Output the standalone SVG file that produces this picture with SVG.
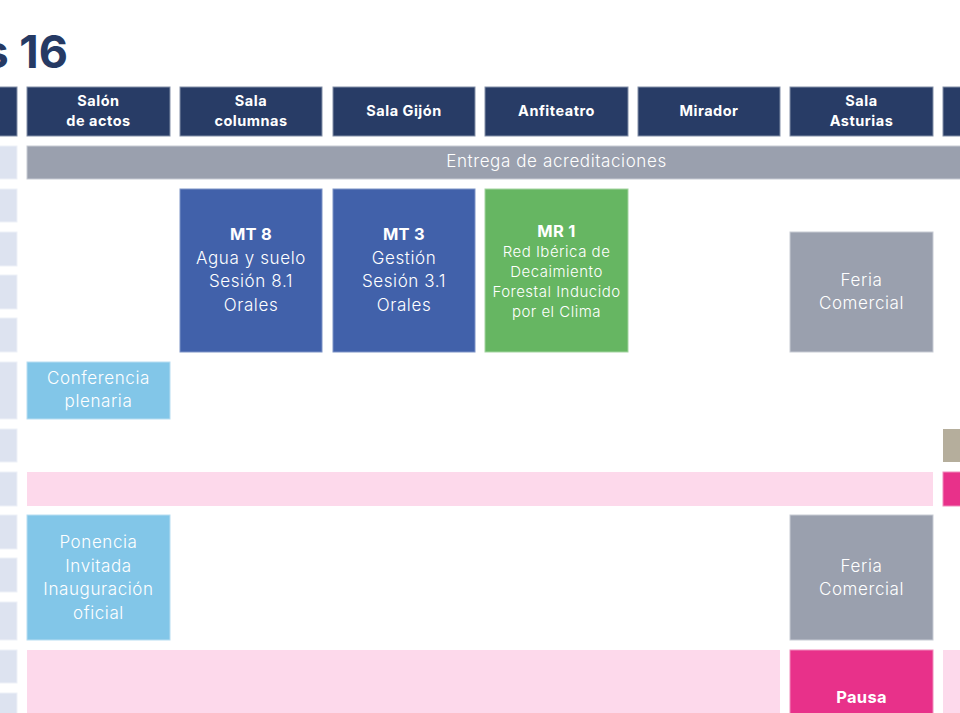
<svg xmlns="http://www.w3.org/2000/svg" width="960" height="713" viewBox="0 0 960 713">
<style>
  .hdr { fill: #283c66; stroke: #8390a8; stroke-width: 1; }
  .side { fill: #dde3f0; stroke: #eef1f8; stroke-width: 1; }
  .grey { fill: #9aa0ae; stroke: #c7cbd4; stroke-width: 1; }
  .blue { fill: #4161aa; stroke: #7d93c6; stroke-width: 1; }
  .green { fill: #66b662; stroke: #a3d4a0; stroke-width: 1; }
  .sky { fill: #82c6e8; stroke: #b8def2; stroke-width: 1; }
  .pink { fill: #fdd9eb; }
  .mag { fill: #e8318a; stroke: #f08cbc; stroke-width: 1; }
  .beige { fill: #b5ae9c; }
  text { font-family: Inter, "Open Sans", "DejaVu Sans", sans-serif; fill: #ffffff; text-anchor: middle; }
  .h { font-size: 14.5px; font-weight: 700; letter-spacing: 0.5px; }
  .t { font-size: 17px; font-weight: 300; letter-spacing: 0.6px; }
  .s { font-size: 15px; font-weight: 300; letter-spacing: 0.5px; }
  .b { font-size: 16.5px; font-weight: 700; letter-spacing: 0.3px; }
  .title { font-size: 45px; font-weight: 700; fill: #263a64; text-anchor: end; }
</style>

<g id="title">
  <text class="title" x="68" y="68">s 16</text>
</g>

<g id="side-column">
  <rect class="hdr" x="-10" y="87" width="27" height="49"/>
  <rect class="side" x="-10" y="146" width="27" height="33"/>
  <rect class="side" x="-10" y="189" width="27" height="33"/>
  <rect class="side" x="-10" y="232" width="27" height="34"/>
  <rect class="side" x="-10" y="275" width="27" height="34"/>
  <rect class="side" x="-10" y="318" width="27" height="34"/>
  <rect class="side" x="-10" y="362" width="27" height="57"/>
  <rect class="side" x="-10" y="429" width="27" height="33"/>
  <rect class="side" x="-10" y="472" width="27" height="34"/>
  <rect class="side" x="-10" y="515" width="27" height="34"/>
  <rect class="side" x="-10" y="558" width="27" height="34"/>
  <rect class="side" x="-10" y="602" width="27" height="38"/>
  <rect class="side" x="-10" y="650" width="27" height="33"/>
  <rect class="side" x="-10" y="693" width="27" height="30"/>
</g>

<g id="header-salon-de-actos">
  <rect class="hdr" x="27" y="87" width="143" height="49"/>
  <text class="h" x="98.5" y="106">Salón</text>
  <text class="h" x="98.5" y="126">de actos</text>
</g>
<g id="header-sala-columnas">
  <rect class="hdr" x="180" y="87" width="142" height="49"/>
  <text class="h" x="251" y="106">Sala</text>
  <text class="h" x="251" y="126">columnas</text>
</g>
<g id="header-sala-gijon">
  <rect class="hdr" x="333" y="87" width="142" height="49"/>
  <text class="h" x="404" y="116">Sala Gijón</text>
</g>
<g id="header-anfiteatro">
  <rect class="hdr" x="485" y="87" width="143" height="49"/>
  <text class="h" x="556.5" y="116">Anfiteatro</text>
</g>
<g id="header-mirador">
  <rect class="hdr" x="638" y="87" width="142" height="49"/>
  <text class="h" x="709" y="116">Mirador</text>
</g>
<g id="header-sala-asturias">
  <rect class="hdr" x="790" y="87" width="143" height="49"/>
  <text class="h" x="861.5" y="106">Sala</text>
  <text class="h" x="861.5" y="126">Asturias</text>
</g>
<g id="header-next">
  <rect class="hdr" x="943" y="87" width="40" height="49"/>
</g>

<g id="entrega">
  <rect class="grey" x="27" y="146" width="1059" height="33"/>
  <text class="t" x="556.5" y="167">Entrega de acreditaciones</text>
</g>

<g id="mt8">
  <rect class="blue" x="180" y="189" width="142" height="163"/>
  <text class="b" x="251" y="240">MT 8</text>
  <text class="t" x="251" y="264">Agua y suelo</text>
  <text class="t" x="251" y="287">Sesión 8.1</text>
  <text class="t" x="251" y="311">Orales</text>
</g>
<g id="mt3">
  <rect class="blue" x="333" y="189" width="142" height="163"/>
  <text class="b" x="404" y="240">MT 3</text>
  <text class="t" x="404" y="264">Gestión</text>
  <text class="t" x="404" y="287">Sesión 3.1</text>
  <text class="t" x="404" y="311">Orales</text>
</g>
<g id="mr1">
  <rect class="green" x="485" y="189" width="143" height="163"/>
  <text class="b" x="556.5" y="237">MR 1</text>
  <text class="s" x="556.5" y="257">Red Ibérica de</text>
  <text class="s" x="556.5" y="277">Decaimiento</text>
  <text class="s" x="556.5" y="297">Forestal Inducido</text>
  <text class="s" x="556.5" y="317">por el Clima</text>
</g>
<g id="feria-1">
  <rect class="grey" x="790" y="232" width="143" height="120"/>
  <text class="t" x="861.5" y="286">Feria</text>
  <text class="t" x="861.5" y="309">Comercial</text>
</g>

<g id="conferencia-plenaria">
  <rect class="sky" x="27" y="362" width="143" height="57"/>
  <text class="t" x="98.5" y="384">Conferencia</text>
  <text class="t" x="98.5" y="407">plenaria</text>
</g>

<g id="beige-next">
  <rect class="beige" x="943" y="429" width="40" height="33"/>
</g>

<g id="pink-row-1">
  <rect class="pink" x="27" y="472" width="906" height="34"/>
</g>
<g id="magenta-next">
  <rect class="mag" x="943" y="472" width="40" height="34"/>
</g>

<g id="ponencia-invitada">
  <rect class="sky" x="27" y="515" width="143" height="125"/>
  <text class="t" x="98.5" y="548">Ponencia</text>
  <text class="t" x="98.5" y="572">Invitada</text>
  <text class="t" x="98.5" y="595">Inauguración</text>
  <text class="t" x="98.5" y="619">oficial</text>
</g>
<g id="feria-2">
  <rect class="grey" x="790" y="515" width="143" height="125"/>
  <text class="t" x="861.5" y="572">Feria</text>
  <text class="t" x="861.5" y="595">Comercial</text>
</g>

<g id="pink-row-2">
  <rect class="pink" x="27" y="650" width="753" height="80"/>
</g>
<g id="pausa">
  <rect class="mag" x="790" y="650" width="143" height="80"/>
  <text class="b" x="861.5" y="703">Pausa</text>
</g>
<g id="pink-next">
  <rect class="pink" x="943" y="650" width="40" height="80"/>
</g>

<g id="connectors"/>
</svg>
